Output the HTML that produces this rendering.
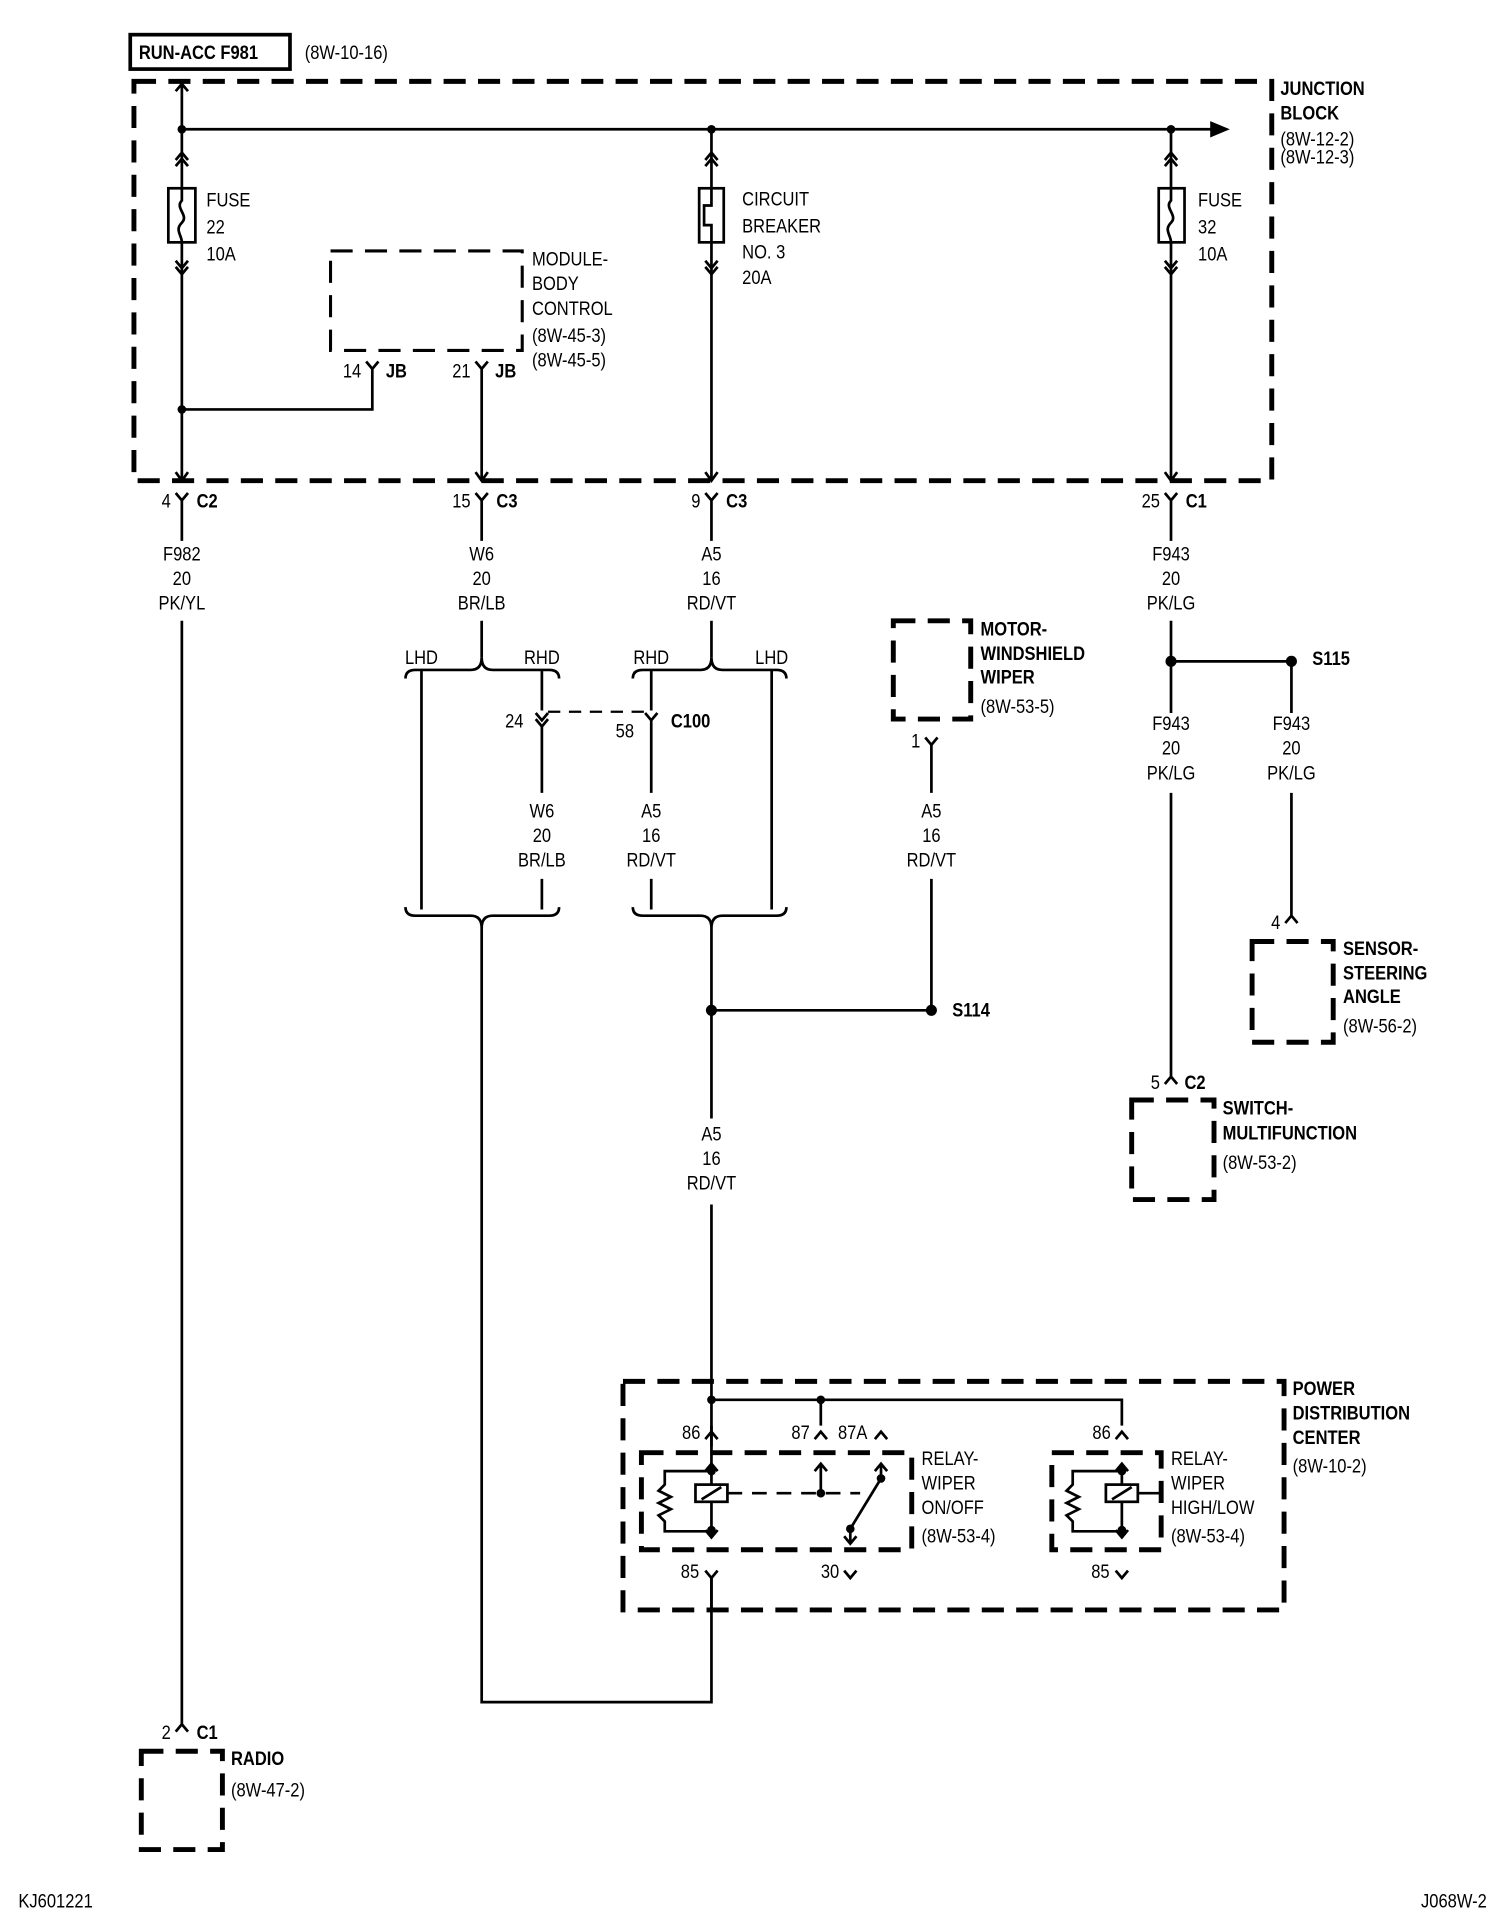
<!DOCTYPE html>
<html><head><meta charset="utf-8"><style>
html,body{margin:0;padding:0;background:#fff}
svg{display:block}
text{font-family:"Liberation Sans Narrow","Liberation Sans",sans-serif;font-size:16px;fill:#000;transform-box:fill-box;transform-origin:left center;transform:scaleX(.84)}
text[text-anchor="middle"]{transform-origin:center center}
text[text-anchor="end"]{transform-origin:right center}
.b{font-weight:bold}
</style></head><body>
<svg width="1504" height="1926" viewBox="0 0 1224 1567" xmlns="http://www.w3.org/2000/svg">
<g fill="none" stroke="#000" stroke-width="2.2">
<rect x="106" y="28" width="130" height="28" stroke-width="3"/>
<g stroke-width="4" stroke-dasharray="18,10">
<rect x="109" y="66" width="926" height="325"/>
<rect x="269" y="204" width="156" height="81" stroke-width="2.5"/>
<rect x="727" y="505" width="63" height="80"/>
<rect x="921" y="895" width="67" height="81"/>
<rect x="1019" y="766" width="66" height="82"/>
<rect x="507" y="1124" width="538" height="186"/>
<rect x="522" y="1182" width="220" height="79"/>
<rect x="856" y="1182" width="89" height="79"/>
<rect x="115" y="1425" width="66" height="80"/>
</g>
<path d="M148 105H990"/><path d="M986 100L998 105L986 110Z" fill="#000"/>
<path d="M143 74L148 68L153 74M148 68V391"/>
<rect x="137" y="153" width="22" height="44" fill="#fff"/>
<path d="M148 153v10c-6 6 6 12 0 18c-6 6 0 10 0 16"/>
<path d="M143 130l5-6l5 6M143 135l5-6l5 6M143 212l5 6l5-6M143 217l5 6l5-6"/>
<path d="M579 105V391"/>
<rect x="569" y="153" width="20" height="44" fill="#fff"/>
<path d="M579 153v14h-6v16h6v14"/>
<path d="M574 130l5-6l5 6M574 135l5-6l5 6M574 212l5 6l5-6M574 217l5 6l5-6"/>
<path d="M953 105V391"/>
<rect x="943" y="153" width="21" height="44" fill="#fff"/>
<path d="M953 153v10c-6 6 6 12 0 18c-6 6 0 10 0 16"/>
<path d="M948 130l5-6l5 6M948 135l5-6l5 6M948 212l5 6l5-6M948 217l5 6l5-6"/>
<path d="M143 384l5 7l5-7M387 384l5 7l5-7M574 384l5 7l5-7M948 384l5 7l5-7"/>
<path d="M298 294l5 6l5-6M303 300V333H148"/>
<path d="M387 294l5 6l5-6M392 300V391"/>
<path d="M143 401l5 6l5-6M148 407V440"/>
<path d="M387 401l5 6l5-6M392 407V440"/>
<path d="M574 401l5 6l5-6M579 407V440"/>
<path d="M948 401l5 6l5-6M953 407V440"/>
<path d="M148 505V1403M143 1409l5-6l5 6"/>
<path d="M392 505V535"/>
<path d="M330 552q0-7 8-7H383q9 0 9-10q0 10 9 10H447q8 0 8 7"/>
<path d="M343 545V740M441 545V578"/>
<path d="M436 580l5 6l5-6M436 585l5 6l5-6M441 591V645M441 715V740"/>
<path d="M330 738q0 7 8 7H383q9 0 9 10q0-10 9-10H447q8 0 8-7"/>
<path d="M392 755V1385H579V1283"/>
<path d="M579 505V535"/>
<path d="M515 552q0-7 8-7H570q9 0 9-10q0 10 9 10H632q8 0 8 7"/>
<path d="M628 545V740M530 545V578"/>
<path d="M525 580l5 6l5-6M530 586V645M530 715V740"/>
<path d="M446 579H525" stroke-dasharray="10,7" stroke-width="1.8"/>
<path d="M515 738q0 7 8 7H570q9 0 9 10q0-10 9-10H632q8 0 8-7"/>
<path d="M579 755V910M579 980V1177"/>
<path d="M579 822H758V715M758 645V606M753 600l5 6l5-6"/>
<path d="M953 505V538H1051M953 538V580M1051 538V580"/>
<path d="M953 645V876M948 882l5-6l5 6"/>
<path d="M1051 645V745M1046 751l5-6l5 6"/>
<path d="M579 1139H913V1160M668 1139V1160"/>
<path d="M574 1171l5-6l5 6M663 1171l5-6l5 6M712 1171l5-6l5 6M908 1171l5-6l5 6"/>
<path d="M574 1197l5-6l5 6M579 1191V1251M574 1245l5 6l5-6"/>
<path d="M579 1191V1160"/>
<path d="M579 1197H541v11l-5 5l10 5l-10 5l10 5l-10 5l5 5v8H579"/>
<rect x="566" y="1208" width="26" height="14" fill="#fff"/>
<path d="M571 1220l16-10"/>
<path d="M592 1215H700" stroke-dasharray="12,8"/>
<path d="M663 1197l5-6l5 6M668 1191V1215"/>
<path d="M712 1197l5-6l5 6M717 1191V1203L692 1244V1255M687 1250l5 6l5-6"/>
<path d="M574 1278l5 6l5-6M579 1284V1310M687 1278l5 6l5-6"/>
<path d="M908 1197l5-6l5 6M913 1191V1251M908 1245l5 6l5-6"/>
<path d="M913 1197H873v11l-5 5l10 5l-10 5l10 5l-10 5l5 5v8H913"/>
<rect x="900" y="1208" width="26" height="14" fill="#fff"/>
<path d="M905 1220l16-10M926 1215H945"/>
<path d="M908 1278l5 6l5-6"/>
</g>
<g fill="#000">
<circle cx="148" cy="105" r="3.5"/><circle cx="579" cy="105" r="3.5"/><circle cx="953" cy="105" r="3.5"/>
<circle cx="148" cy="333" r="3.5"/>
<circle cx="579" cy="822" r="4.5"/><circle cx="758" cy="822" r="4.5"/>
<circle cx="953" cy="538" r="4.5"/><circle cx="1051" cy="538" r="4.5"/>
<circle cx="579" cy="1139" r="3.5"/><circle cx="668" cy="1139" r="3.5"/>
<circle cx="579" cy="1197" r="3.5"/><circle cx="579" cy="1245" r="3.5"/>
<circle cx="668" cy="1215" r="3.5"/><circle cx="717" cy="1203" r="3.5"/><circle cx="692" cy="1244" r="3.5"/>
<circle cx="913" cy="1197" r="3.5"/><circle cx="913" cy="1245" r="3.5"/>
</g>
<text x="113" y="48" class="b">RUN-ACC F981</text>
<text x="248" y="48">(8W-10-16)</text>
<text x="1042" y="77" class="b">JUNCTION</text><text x="1042" y="97" class="b">BLOCK</text>
<text x="1042" y="118">(8W-12-2)</text><text x="1042" y="133">(8W-12-3)</text>
<text x="168" y="168">FUSE</text><text x="168" y="190">22</text><text x="168" y="212">10A</text>
<text x="604" y="167">CIRCUIT</text><text x="604" y="189">BREAKER</text><text x="604" y="210">NO. 3</text><text x="604" y="231">20A</text>
<text x="975" y="168">FUSE</text><text x="975" y="190">32</text><text x="975" y="212">10A</text>
<text x="433" y="216">MODULE-</text><text x="433" y="236">BODY</text><text x="433" y="256">CONTROL</text>
<text x="433" y="278">(8W-45-3)</text><text x="433" y="298">(8W-45-5)</text>
<text x="294" y="307" text-anchor="end">14</text><text x="314" y="307" class="b">JB</text>
<text x="383" y="307" text-anchor="end">21</text><text x="403" y="307" class="b">JB</text>
<text x="139" y="413" text-anchor="end">4</text><text x="160" y="413" class="b">C2</text>
<text x="383" y="413" text-anchor="end">15</text><text x="404" y="413" class="b">C3</text>
<text x="570" y="413" text-anchor="end">9</text><text x="591" y="413" class="b">C3</text>
<text x="944" y="413" text-anchor="end">25</text><text x="965" y="413" class="b">C1</text>
<g text-anchor="middle">
<text x="148" y="456" text-anchor="middle">F982</text><text x="148" y="476" text-anchor="middle">20</text><text x="148" y="496" text-anchor="middle">PK/YL</text>
<text x="392" y="456" text-anchor="middle">W6</text><text x="392" y="476" text-anchor="middle">20</text><text x="392" y="496" text-anchor="middle">BR/LB</text>
<text x="579" y="456" text-anchor="middle">A5</text><text x="579" y="476" text-anchor="middle">16</text><text x="579" y="496" text-anchor="middle">RD/VT</text>
<text x="953" y="456" text-anchor="middle">F943</text><text x="953" y="476" text-anchor="middle">20</text><text x="953" y="496" text-anchor="middle">PK/LG</text>
<text x="343" y="540" text-anchor="middle">LHD</text><text x="441" y="540" text-anchor="middle">RHD</text>
<text x="530" y="540" text-anchor="middle">RHD</text><text x="628" y="540" text-anchor="middle">LHD</text>
<text x="441" y="665" text-anchor="middle">W6</text><text x="441" y="685" text-anchor="middle">20</text><text x="441" y="705" text-anchor="middle">BR/LB</text>
<text x="530" y="665" text-anchor="middle">A5</text><text x="530" y="685" text-anchor="middle">16</text><text x="530" y="705" text-anchor="middle">RD/VT</text>
<text x="758" y="665" text-anchor="middle">A5</text><text x="758" y="685" text-anchor="middle">16</text><text x="758" y="705" text-anchor="middle">RD/VT</text>
<text x="579" y="928" text-anchor="middle">A5</text><text x="579" y="948" text-anchor="middle">16</text><text x="579" y="968" text-anchor="middle">RD/VT</text>
<text x="953" y="594" text-anchor="middle">F943</text><text x="953" y="614" text-anchor="middle">20</text><text x="953" y="634" text-anchor="middle">PK/LG</text>
<text x="1051" y="594" text-anchor="middle">F943</text><text x="1051" y="614" text-anchor="middle">20</text><text x="1051" y="634" text-anchor="middle">PK/LG</text>
</g>
<text x="426" y="592" text-anchor="end">24</text>
<text x="516" y="600" text-anchor="end">58</text><text x="546" y="592" class="b">C100</text>
<text x="798" y="517" class="b">MOTOR-</text><text x="798" y="537" class="b">WINDSHIELD</text><text x="798" y="556" class="b">WIPER</text><text x="798" y="580">(8W-53-5)</text>
<text x="749" y="608" text-anchor="end">1</text>
<text x="775" y="827" class="b">S114</text>
<text x="1068" y="541" class="b">S115</text>
<text x="1042" y="756" text-anchor="end">4</text>
<text x="1093" y="777" class="b">SENSOR-</text><text x="1093" y="797" class="b">STEERING</text><text x="1093" y="816" class="b">ANGLE</text><text x="1093" y="840">(8W-56-2)</text>
<text x="944" y="886" text-anchor="end">5</text><text x="964" y="886" class="b">C2</text>
<text x="995" y="907" class="b">SWITCH-</text><text x="995" y="927" class="b">MULTIFUNCTION</text><text x="995" y="951">(8W-53-2)</text>
<text x="1052" y="1135" class="b">POWER</text><text x="1052" y="1155" class="b">DISTRIBUTION</text><text x="1052" y="1175" class="b">CENTER</text><text x="1052" y="1198">(8W-10-2)</text>
<text x="570" y="1171" text-anchor="end">86</text>
<text x="659" y="1171" text-anchor="end">87</text>
<text x="682" y="1171">87A</text>
<text x="904" y="1171" text-anchor="end">86</text>
<text x="750" y="1192">RELAY-</text><text x="750" y="1212">WIPER</text><text x="750" y="1232">ON/OFF</text><text x="750" y="1255">(8W-53-4)</text>
<text x="953" y="1192">RELAY-</text><text x="953" y="1212">WIPER</text><text x="953" y="1232">HIGH/LOW</text><text x="953" y="1255">(8W-53-4)</text>
<text x="569" y="1284" text-anchor="end">85</text>
<text x="683" y="1284" text-anchor="end">30</text>
<text x="903" y="1284" text-anchor="end">85</text>
<text x="139" y="1415" text-anchor="end">2</text><text x="160" y="1415" class="b">C1</text>
<text x="188" y="1436" class="b">RADIO</text><text x="188" y="1462">(8W-47-2)</text>
<text x="15" y="1552">KJ601221</text>
<text x="1210" y="1552" text-anchor="end">J068W-2</text>
</svg>
</body></html>
